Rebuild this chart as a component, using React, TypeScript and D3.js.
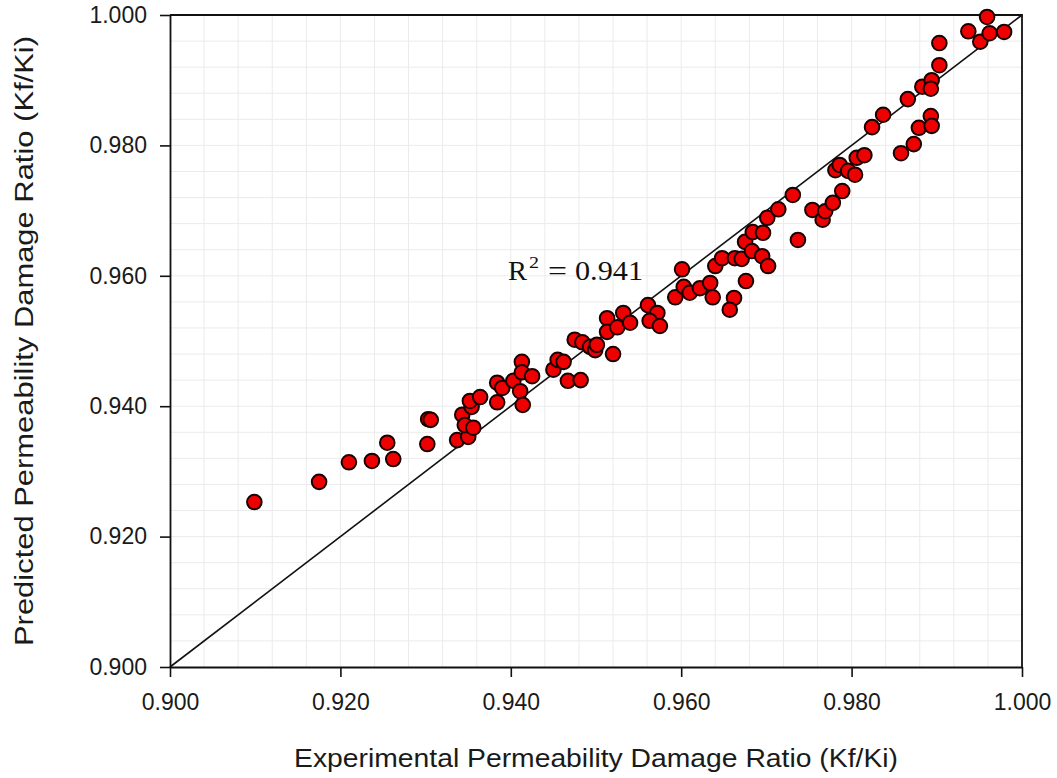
import React, { useEffect, useRef } from "react";
import * as d3 from "d3";

const expRatio = [
  0.9099, 0.9175, 0.9210, 0.9237, 0.9262, 0.9255, 0.9302, 0.9303, 0.9306, 0.9337,
  0.9350, 0.9343, 0.9346, 0.9356, 0.9354, 0.9352, 0.9364, 0.9384, 0.9384, 0.9390,
  0.9403, 0.9413, 0.9413, 0.9411, 0.9414, 0.9425, 0.9450, 0.9455, 0.9462, 0.9467,
  0.9482, 0.9475, 0.9484, 0.9493, 0.9499, 0.9501, 0.9520, 0.9513, 0.9513, 0.9525,
  0.9532, 0.9540, 0.9561, 0.9572, 0.9563, 0.9575, 0.9593, 0.9601, 0.9603, 0.9610,
  0.9622, 0.9634, 0.9637, 0.9640, 0.9648, 0.9663, 0.9671, 0.9675, 0.9683, 0.9684,
  0.9695, 0.9702, 0.9676, 0.9662, 0.9657, 0.9696, 0.9701, 0.9714, 0.9731, 0.9737,
  0.9754, 0.9766, 0.9769, 0.9778, 0.9781, 0.9786, 0.9796, 0.9804, 0.9806, 0.9815,
  0.9789, 0.9824, 0.9837, 0.9858, 0.9873, 0.9879, 0.9893, 0.9894, 0.9866, 0.9883,
  0.9894, 0.9893, 0.9903, 0.9903, 0.9937, 0.9951, 0.9959, 0.9962, 0.9979,
];

const predRatio = [
  0.9253, 0.9284, 0.9314, 0.9316, 0.9319, 0.9344, 0.9342, 0.9380, 0.9379, 0.9348,
  0.9353, 0.9387, 0.9371, 0.9367, 0.9399, 0.9408, 0.9414, 0.9406, 0.9436, 0.9428,
  0.9439, 0.9468, 0.9452, 0.9423, 0.9402, 0.9446, 0.9456, 0.9471, 0.9468, 0.9439,
  0.9440, 0.9502, 0.9498, 0.9491, 0.9486, 0.9494, 0.9480, 0.9535, 0.9514, 0.9521,
  0.9543, 0.9528, 0.9555, 0.9543, 0.9531, 0.9523, 0.9567, 0.9610, 0.9583, 0.9574,
  0.9581, 0.9589, 0.9567, 0.9615, 0.9627, 0.9627, 0.9626, 0.9652, 0.9638, 0.9667,
  0.9630, 0.9615, 0.9592, 0.9566, 0.9548, 0.9666, 0.9689, 0.9702, 0.9724, 0.9655,
  0.9701, 0.9686, 0.9699, 0.9712, 0.9762, 0.9770, 0.9761, 0.9755, 0.9781, 0.9785,
  0.9730, 0.9828, 0.9847, 0.9788, 0.9802, 0.9827, 0.9845, 0.9830, 0.9871, 0.9890,
  0.9900, 0.9887, 0.9923, 0.9957, 0.9975, 0.9959, 0.9997, 0.9972, 0.9974,
];

const axisDomain = [0.9, 1.0];
const xTicks = [0.9, 0.92, 0.94, 0.96, 0.98, 1.0];
const yTicks = [0.9, 0.92, 0.94, 0.96, 0.98, 1.0];
const minorStep = 0.004;
const r2Value = "0.941";
const xTitle = "Experimental Permeability Damage Ratio (Kf/Ki)";
const yTitle = "Predicted Permeability Damage Ratio (Kf/Ki)";

export default function App() {
  const ref = useRef<SVGSVGElement>(null);

  useEffect(() => {
    const svg = d3.select(ref.current);
    svg.selectAll("*").remove();

    const W = 1057;
    const H = 778;
    const L = 170, R = 1022, T = 15, B = 667;
    const x = d3.scaleLinear().domain(axisDomain).range([L, R]);
    const y = d3.scaleLinear().domain(axisDomain).range([B, T]);

    svg.append("rect").attr("width", W).attr("height", H).attr("fill", "#fff");

    const nMinor = Math.round((axisDomain[1] - axisDomain[0]) / minorStep);
    const grid = d3.range(1, nMinor).map((i) => axisDomain[0] + i * minorStep);
    const g = svg.append("g");
    g.selectAll("line.vx")
      .data(grid)
      .join("line")
      .attr("x1", (d) => x(d))
      .attr("x2", (d) => x(d))
      .attr("y1", T)
      .attr("y2", B)
      .attr("stroke", "#ebebeb")
      .attr("stroke-width", 1);
    g.selectAll("line.hy")
      .data(grid)
      .join("line")
      .attr("y1", (d) => y(d))
      .attr("y2", (d) => y(d))
      .attr("x1", L)
      .attr("x2", R)
      .attr("stroke", "#ebebeb")
      .attr("stroke-width", 1);

    // 1:1 line
    svg
      .append("line")
      .attr("x1", x(axisDomain[0]))
      .attr("y1", y(axisDomain[0]))
      .attr("x2", x(axisDomain[1]))
      .attr("y2", y(axisDomain[1]))
      .attr("stroke", "#111")
      .attr("stroke-width", 1.6);

    // frame (top/right)
    svg
      .append("path")
      .attr("d", `M${L},${T}H${R}V${B}`)
      .attr("fill", "none")
      .attr("stroke", "#111")
      .attr("stroke-width", 1.8);

    const fmt = d3.format(".3f");
    const xAxis = svg
      .append("g")
      .attr("transform", `translate(0,${B})`)
      .call(
        d3.axisBottom(x).tickValues(xTicks).tickFormat(fmt as any).tickSize(10).tickSizeOuter(0).tickPadding(17)
      );
    const yAxis = svg
      .append("g")
      .attr("transform", `translate(${L},0)`)
      .call(
        d3.axisLeft(y).tickValues(yTicks).tickFormat(fmt as any).tickSize(10).tickSizeOuter(0).tickPadding(13)
      );
    [xAxis, yAxis].forEach((a) => {
      a.select(".domain").attr("stroke", "#111").attr("stroke-width", 1.8);
      a.selectAll(".tick line").attr("stroke", "#111").attr("stroke-width", 1.6);
      a.selectAll(".tick text")
        .attr("fill", "#1a1a1a")
        .style("font-family", "'Liberation Sans', Arial, sans-serif")
        .style("font-size", "23px");
    });

    // points
    svg
      .append("g")
      .selectAll("circle")
      .data(expRatio.map((v, i) => [v, predRatio[i]]))
      .join("circle")
      .attr("cx", (d) => x(d[0]))
      .attr("cy", (d) => y(d[1]))
      .attr("r", 7.3)
      .attr("fill", "#ee0000")
      .attr("stroke", "#1a0000")
      .attr("stroke-width", 2);

    // R^2 label
    const serif = "'Liberation Serif', 'Times New Roman', serif";
    const lab = svg.append("g").attr("fill", "#111").style("font-family", serif);
    lab.append("text").attr("x", 508).attr("y", 280).style("font-size", "27px")
      .attr("textLength", 19).attr("lengthAdjust", "spacingAndGlyphs").text("R");
    lab.append("text").attr("x", 529).attr("y", 268).style("font-size", "16px")
      .attr("textLength", 10).attr("lengthAdjust", "spacingAndGlyphs").text("2");
    lab.append("text").attr("x", 548).attr("y", 280).style("font-size", "27px")
      .attr("textLength", 19).attr("lengthAdjust", "spacingAndGlyphs").text("=");
    lab.append("text").attr("x", 575).attr("y", 280).style("font-size", "27px")
      .attr("textLength", 68).attr("lengthAdjust", "spacingAndGlyphs").text(r2Value);

    // axis titles
    svg
      .append("text")
      .attr("x", (L + R) / 2)
      .attr("y", 767)
      .attr("text-anchor", "middle")
      .attr("fill", "#1a1a1a")
      .attr("textLength", 604)
      .attr("lengthAdjust", "spacingAndGlyphs")
      .style("font-family", "'Liberation Sans', Arial, sans-serif")
      .style("font-size", "25px")
      .text(xTitle);
    svg
      .append("text")
      .attr("transform", `translate(33,${(T + B) / 2}) rotate(-90)`)
      .attr("text-anchor", "middle")
      .attr("fill", "#1a1a1a")
      .attr("textLength", 610)
      .attr("lengthAdjust", "spacingAndGlyphs")
      .style("font-family", "'Liberation Sans', Arial, sans-serif")
      .style("font-size", "25px")
      .text(yTitle);
  }, []);

  return (
    <svg
      ref={ref}
      width={1057}
      height={778}
      style={{ position: "absolute", left: 0, top: 0, display: "block" }}
    />
  );
}
